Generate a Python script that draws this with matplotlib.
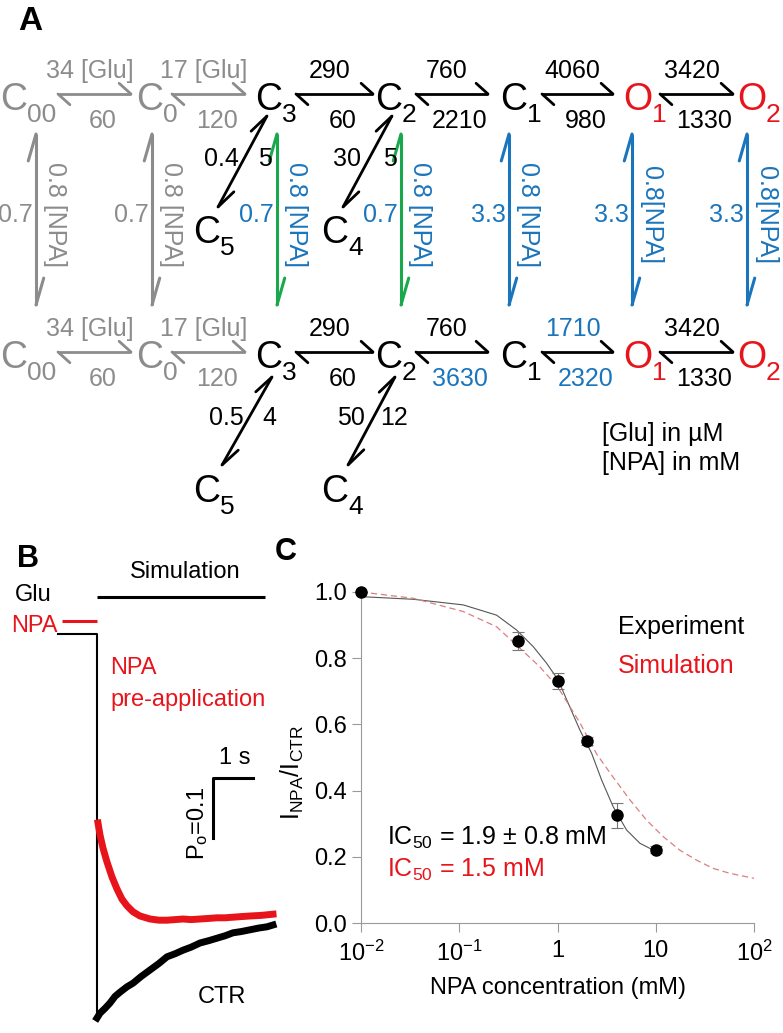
import numpy as np
import matplotlib
matplotlib.use('Agg')
import matplotlib.pyplot as plt
from matplotlib.ticker import NullLocator

plt.rcParams['font.family'] = ['Liberation Sans', 'DejaVu Sans']
plt.rcParams['mathtext.fontset'] = 'custom'
plt.rcParams['mathtext.rm'] = 'Liberation Sans'
plt.rcParams['mathtext.it'] = 'Liberation Sans'
plt.rcParams['mathtext.bf'] = 'Liberation Sans:bold'
plt.rcParams['mathtext.default'] = 'regular'

W, H = 783, 1033
GRAY = '#8c8c8c'
RED = '#e8141b'
BLUE = '#1b75bc'
GREEN = '#19a84b'

# ---------------- data ----------------
# panel A: kinetic scheme (rates in s-1)
states = [('C', '00'), ('C', '0'), ('C', '3'), ('C', '2'), ('C', '1'), ('O', '1'), ('O', '2')]
state_colors = [GRAY, GRAY, 'k', 'k', 'k', RED, RED]
arrow_colors = [GRAY, GRAY, 'k', 'k', 'k', 'k']
top_on = ['34 [Glu]', '17 [Glu]', '290', '760', '4060', '3420']
top_off = ['60', '120', '60', '2210', '980', '1330']
bot_on = ['34 [Glu]', '17 [Glu]', '290', '760', '1710', '3420']
bot_off = ['60', '120', '60', '3630', '2320', '1330']
bot_on_colors = [GRAY, GRAY, 'k', 'k', BLUE, 'k']
bot_off_colors = [GRAY, GRAY, 'k', BLUE, BLUE, 'k']
npa_off = ['0.7', '0.7', '0.7', '0.7', '3.3', '3.3', '3.3']
npa_on = ['0.8 [NPA]'] * 5 + ['0.8[NPA]'] * 2
npa_arrow_colors = [GRAY, GRAY, GREEN, GREEN, BLUE, BLUE, BLUE]
npa_text_colors = [GRAY, GRAY, BLUE, BLUE, BLUE, BLUE, BLUE]
desens_states = [('C', '5'), ('C', '4')]
desens_top = [('0.4', '5'), ('30', '5')]
desens_bot = [('0.5', '4'), ('50', '12')]

# panel B: simulated open probability (time in s)
t_ctr = [0.0, 0.075, 0.2, 0.325, 0.45, 0.575, 0.75, 0.9, 1.1, 1.325, 1.55, 1.75, 1.95,
         2.15, 2.35, 2.575, 2.8, 3.0, 3.2, 3.4, 3.6, 3.825, 4.05, 4.25, 4.4]
po_ctr = [-0.64, -0.632, -0.624, -0.615, -0.604, -0.597, -0.588, -0.582, -0.571, -0.56,
          -0.549, -0.538, -0.533, -0.527, -0.522, -0.515, -0.511, -0.507, -0.503, -0.498,
          -0.496, -0.493, -0.49, -0.488, -0.485]
t_npa = [0.025, 0.075, 0.15, 0.25, 0.375, 0.5, 0.625, 0.75, 0.9, 1.075, 1.325, 1.55,
         1.75, 1.95, 2.15, 2.35, 2.575, 2.8, 3.0, 3.2, 3.4, 3.6, 3.825, 4.1, 4.4]
po_npa = [-0.315, -0.335, -0.357, -0.38, -0.405, -0.425, -0.442, -0.453, -0.463, -0.47,
          -0.475, -0.477, -0.477, -0.476, -0.475, -0.476, -0.475, -0.474, -0.473, -0.473,
          -0.472, -0.471, -0.47, -0.469, -0.467]
glu_window = (0.0, 4.2)
npa_pre = (-0.875, 0.0)
ctr_pre = (-0.975, 0.0)

# panel C: dose response
npa_conc = [0.01, 0.4, 1, 2, 4, 10]
i_ratio = [1.0, 0.852, 0.732, 0.549, 0.325, 0.222]
i_err = [0.0, 0.028, 0.024, 0.012, 0.038, 0.01]
fit_x = [0.01, 0.034, 0.11, 0.24, 0.384, 0.566, 0.774, 1.016, 1.285, 1.69, 2.223,
         2.812, 3.69, 5.047, 6.887, 10.19]
fit_y = [0.986, 0.978, 0.961, 0.930, 0.885, 0.835, 0.785, 0.734, 0.664, 0.583,
         0.513, 0.432, 0.351, 0.281, 0.241, 0.215]
sim_x = [0.01, 0.034, 0.11, 0.24, 0.398, 0.661, 1.0, 1.69, 2.51, 3.69, 5.46, 8.05,
         11.9, 17.6, 26.0, 38.4, 56.8, 100]
sim_y = [1.0, 0.981, 0.941, 0.895, 0.835, 0.774, 0.714, 0.605, 0.51, 0.44, 0.372,
         0.311, 0.261, 0.22, 0.19, 0.165, 0.15, 0.135]
x_ticklabels = ['10$^{-2}$', '10$^{-1}$', '1', '10', '10$^{2}$']

# ---------------- figure ----------------
fig = plt.figure(figsize=(W / 100, H / 100), dpi=100)
ax0 = fig.add_axes([0, 0, 1, 1])
ax0.set_xlim(0, W)
ax0.set_ylim(H, 0)
ax0.axis('off')

FS = 18  # rate labels


def px_axes(l, t, r, b):
    ax = fig.add_axes([l / W, 1 - b / H, (r - l) / W, (b - t) / H])
    ax.patch.set_alpha(0)
    return ax


def harpoon(p0, p1, color, blen, bang, lw=2.0):
    # line with a half head at each end (forward barb one side, back barb other)
    p0, p1 = np.array(p0, float), np.array(p1, float)
    ax0.plot([p0[0], p1[0]], [p0[1], p1[1]], color=color, lw=lw, solid_capstyle='butt')
    d = (p1 - p0) / np.hypot(*(p1 - p0))
    a = np.deg2rad(bang)
    rot = np.array([[np.cos(a), -np.sin(a)], [np.sin(a), np.cos(a)]])
    for tip, back in ((p1, -d), (p0, d)):
        b = tip + blen * rot @ back
        ax0.plot([tip[0], b[0]], [tip[1], b[1]], color=color, lw=lw, solid_capstyle='round')


def state(x, yb, name, color):
    ax0.text(x, yb, name[0], ha='right', va='baseline', fontsize=27, color=color)
    ax0.text(x, yb + 12, name[1], ha='left', va='baseline', fontsize=19, color=color)


# ---- panel A ----
ax0.text(18, 30, 'A', fontsize=24, fontweight='bold', va='baseline')
state_x = [27, 163, 282, 402, 527, 652, 766]
row_base = [110, 368]
arrow_ends = [(58, 131), (172, 245), (296, 373), (416, 488), (542, 613), (660, 733)]
rows = [(top_on, top_off, ['k'] * 6, ['k'] * 6), (bot_on, bot_off, bot_on_colors, bot_off_colors)]
for r, (on, off, on_c, off_c) in enumerate(rows):
    yb = row_base[r]
    ya = yb - 16
    for i, s in enumerate(states):
        state(state_x[i], yb, s, state_colors[i])
    for i, (xa, xb) in enumerate(arrow_ends):
        c = arrow_colors[i]
        harpoon((xa, ya), (xb, ya), c, 16, 42)
        mid = (xa + xb) / 2
        tc_on = GRAY if c == GRAY else on_c[i]
        tc_off = GRAY if c == GRAY else off_c[i]
        ax0.text(mid - 5, ya - 16, on[i], ha='center', va='baseline', fontsize=FS, color=tc_on)
        ax0.text(mid + 8, ya + 34, off[i], ha='center', va='baseline', fontsize=FS, color=tc_off)

# NPA binding (vertical)
vert_x = [36, 152, 277, 401, 509, 632, 747]
for i, xv in enumerate(vert_x):
    harpoon((xv, 305), (xv, 134), npa_arrow_colors[i], 28, 16, lw=2.2)
    ax0.text(xv - 3, 222, npa_off[i], ha='right', va='baseline', fontsize=FS,
             color=npa_text_colors[i])
    ax0.text(xv + 7, 215, npa_on[i], ha='left', va='center', rotation=-90, fontsize=FS,
             color=npa_text_colors[i])

# desensitized states
desens_x = [220, 348]
diag = [[((218, 207), (267, 116)), ((343, 207), (392, 116))],
        [((222, 465), (272, 377)), ((348, 465), (395, 377))]]
desens_base = [243, 502]
for r, rates in enumerate([desens_top, desens_bot]):
    for j in range(2):
        p0, p1 = diag[r][j]
        harpoon(p0, p1, 'k', 22, 18)
        mx, my = (p0[0] + p1[0]) / 2, (p0[1] + p1[1]) / 2
        ax0.text(mx - 21, my + 4, rates[j][0], ha='center', va='baseline', fontsize=FS)
        ax0.text(mx + 22, my + 4, rates[j][1], ha='center', va='baseline', fontsize=FS)
        state(desens_x[j], desens_base[r], desens_states[j], 'k')

ax0.text(602, 441, '[Glu] in µM', ha='left', va='baseline', fontsize=FS)
ax0.text(602, 470, '[NPA] in mM', ha='left', va='baseline', fontsize=FS)

# ---- panel B ----
ax0.text(17, 567, 'B', fontsize=22, fontweight='bold', va='baseline')
axb = px_axes(40, 585, 290, 1033)
axb.set_xlim((40 - 97) / 40, (290 - 97) / 40)
axb.set_ylim((634 - 1033) / 600, (634 - 585) / 600)
axb.axis('off')
axb.plot(glu_window, [0.0617, 0.0617], color='k', lw=2.2, solid_capstyle='butt')
axb.plot(npa_pre, [0.0217, 0.0217], color=RED, lw=2.2, solid_capstyle='butt')
axb.plot([ctr_pre[0], ctr_pre[1], ctr_pre[1]], [0, 0, po_ctr[0]], color='k', lw=1.5)
axb.plot(t_npa, po_npa, color=RED, lw=5, solid_joinstyle='round')
axb.plot(t_ctr, po_ctr, color='k', lw=5, solid_joinstyle='round')
# scale bars: 1 s, Po 0.1
axb.plot([3.9, 2.9, 2.9], [-0.24, -0.24, -0.34], color='k', lw=2.2)

ax0.text(185, 572, 'Simulation', ha='center', va='center', fontsize=17)
ax0.text(33, 595, 'Glu', ha='center', va='center', fontsize=17)
ax0.text(58, 626, 'NPA', ha='right', va='center', fontsize=17, color=RED)
ax0.text(110, 668, 'NPA', ha='left', va='center', fontsize=17, color=RED)
ax0.text(110, 700, 'pre-application', ha='left', va='center', fontsize=17, color=RED)
ax0.text(235, 758, '1 s', ha='center', va='center', fontsize=17)
ax0.text(198, 823, 'P$_o$=0.1', ha='center', va='center', rotation=90, fontsize=17)
ax0.text(222, 997, 'CTR', ha='center', va='center', fontsize=17)

# ---- panel C ----
ax0.text(275, 560, 'C', fontsize=22, fontweight='bold', va='baseline')
axc = px_axes(361, 592, 754, 923)
axc.set_xscale('log')
axc.set_xlim(0.01, 100)
axc.set_ylim(0, 1.0)
for s in ['top', 'right']:
    axc.spines[s].set_visible(False)
for s in ['left', 'bottom']:
    axc.spines[s].set_color('#9a9a9a')
    axc.spines[s].set_linewidth(0.8)
axc.set_xticks([0.01, 0.1, 1, 10, 100])
axc.set_xticklabels(x_ticklabels)
axc.xaxis.set_minor_locator(NullLocator())
axc.set_yticks([0, 0.2, 0.4, 0.6, 0.8, 1.0])
axc.set_yticklabels(['0.0', '0.2', '0.4', '0.6', '0.8', '1.0'])
axc.tick_params(direction='out', length=6.5, width=0.8, color='#9a9a9a', labelsize=17)
axc.tick_params(axis='y', pad=3.5)
axc.tick_params(axis='x', pad=6)

axc.plot(fit_x, fit_y, color='#555555', lw=0.8)
axc.plot(sim_x, sim_y, color='#d98080', lw=0.9, ls=(0, (5, 3)))
axc.errorbar(npa_conc, i_ratio, yerr=i_err, fmt='o', color='k', ms=8, ecolor='#777777',
             elinewidth=0.8, capsize=4, capthick=0.8, zorder=3, clip_on=False)

axc.set_xlabel('NPA concentration (mM)', fontsize=17)
axc.xaxis.set_label_coords(0.5, -(977 - 923) / 331)
axc.set_ylabel('I$_{NPA}$/I$_{CTR}$', fontsize=18)
axc.yaxis.set_label_coords((306 - 361) / 393, 0.456)

ax0.text(618, 634, 'Experiment', ha='left', va='baseline', fontsize=18)
ax0.text(618, 673, 'Simulation', ha='left', va='baseline', fontsize=18, color=RED)
ax0.text(387, 845, 'IC$_{50}$ = 1.9 ± 0.8 mM', ha='left', va='baseline', fontsize=18)
ax0.text(387, 877, 'IC$_{50}$ = 1.5 mM', ha='left', va='baseline', fontsize=18, color=RED)

fig.savefig('out.png', dpi=100)
